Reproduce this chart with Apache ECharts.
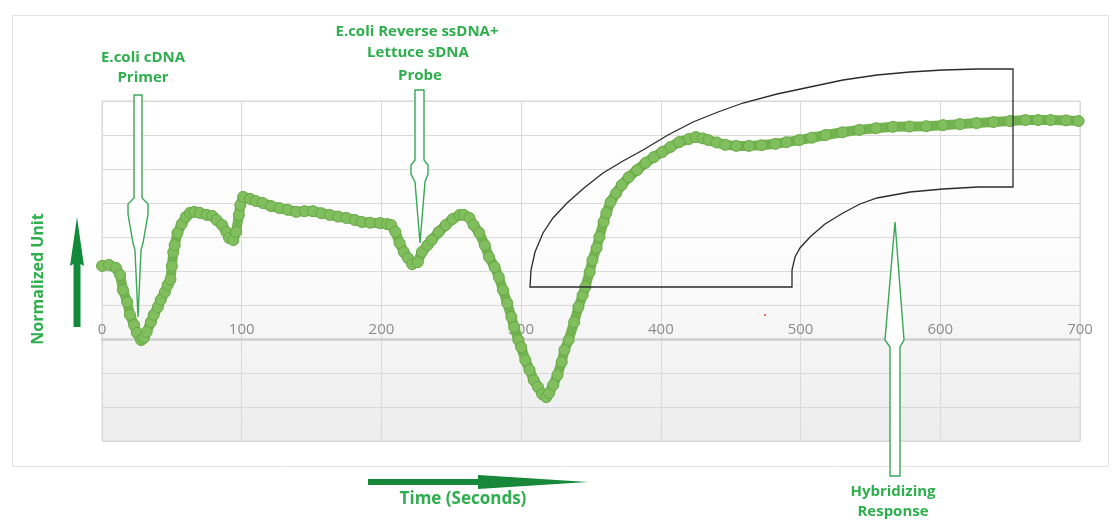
<!DOCTYPE html>
<html>
<head>
<meta charset="utf-8">
<script src="https://cdn.jsdelivr.net/npm/echarts@6/dist/echarts.min.js"></script>
<style>
html,body{margin:0;padding:0;background:#fff;}
#chart{width:1117px;height:520px;}
</style>
</head>
<body>
<div id="chart"></div>
<script>
// ---- data ----
var times = [0,5,10,13,15,18,20,23,25,28,30,32,35,37,40,42,45,47,49,50,51,52,54,57,60,63,66,70,75,79,82,86,89,91,94,96,98,99,101,
  106,110,115,121,127,133,139,145,151,157,163,169,175,181,186,192,199,204,207,210,213,216,219,222,226,229,233,236,241,246,251,256,259,263,266,270,274,277,281,284,287,290,293,295,298,
  300,303,306,309,312,315,318,320,323,326,329,331,334,338,341,344,346,349,351,354,356,359,361,364,368,372,377,383,389,395,401,407,413,420,425,430,434,440,446,454,463,472,482,490,499,
  508,518,530,542,554,566,578,590,602,614,626,638,650,661,670,679,690,699];
var values = [2.15,2.18,2.09,1.88,1.44,1.09,0.71,0.41,0.18,-0.03,0.03,0.21,0.5,0.71,0.94,1.15,1.38,1.59,1.75,2.15,2.55,2.76,3.12,3.38,3.59,3.71,3.74,3.71,3.65,3.62,3.5,3.35,3.15,2.97,2.91,3.15,3.65,3.94,4.18,
  4.12,4.06,4.0,3.91,3.85,3.8,3.74,3.76,3.76,3.7,3.65,3.6,3.56,3.5,3.44,3.42,3.41,3.38,3.35,3.15,2.82,2.56,2.38,2.2,2.26,2.56,2.76,2.91,3.15,3.35,3.53,3.65,3.65,3.56,3.35,3.12,2.76,2.41,2.12,1.82,1.44,1.06,0.65,0.35,-0.03,
  -0.24,-0.62,-0.91,-1.21,-1.41,-1.62,-1.71,-1.59,-1.35,-1.06,-0.68,-0.32,-0.03,0.5,0.94,1.29,1.53,1.97,2.32,2.68,3.0,3.44,3.71,4.03,4.29,4.53,4.76,4.97,5.18,5.35,5.5,5.65,5.79,5.88,5.94,5.9,5.85,5.78,5.71,5.68,5.68,5.7,5.74,5.79,5.85,
  5.92,6.0,6.08,6.15,6.2,6.24,6.25,6.26,6.29,6.32,6.35,6.38,6.41,6.44,6.44,6.44,6.43,6.41];
var xTicks = [0,100,200,300,400,500,600,700];
var yTicks = [-3,-2,-1,0,1,2,3,4,5,6,7];
var xTitle = 'Time (Seconds)';
var yTitle = 'Normalized Unit';
var note1 = ['E.coli cDNA', 'Primer'];
var note2 = ['E.coli Reverse ssDNA+', 'Lettuce sDNA', 'Probe'];
var note3 = ['Hybridizing', 'Response'];

// ---- chart ----
var chart = echarts.init(document.getElementById('chart'), null, {renderer: 'canvas'});
var pts = times.map(function (t, i) { return [t, values[i]]; });
var green = '#2eae4d';
var fontFam = '"Open Sans", Lato, sans-serif';

var gridTop = 101, gridBottom = 79, chartH = 520;
var gridH = chartH - gridTop - gridBottom;
var yMin = yTicks[0], yMax = yTicks[yTicks.length - 1];
var zeroOffset = -((0 - yMin) / (yMax - yMin)) * gridH;

function textEl(x, y, s, size) {
  return {type: 'text', x: x, y: y, z: 100,
    style: {text: s, fill: green, font: 'bold ' + (size || 15) + 'px ' + fontFam, textAlign: 'center', textVerticalAlign: 'middle'}};
}
function outlineArrow(points) {
  return {type: 'polygon', z: 100, shape: {points: points},
    style: {fill: '#ffffff', stroke: '#3aa656', lineWidth: 1.4}};
}

var graphics = [
  {type: 'rect', z: 0, shape: {x: 12.5, y: 15.5, width: 1096, height: 451},
    style: {fill: 'none', stroke: '#e2e2e2', lineWidth: 1}},
  {type: 'text', x: 38, y: 279, rotation: Math.PI / 2, z: 100,
    style: {text: yTitle, fill: green, font: 'bold 16px ' + fontFam, textAlign: 'center', textVerticalAlign: 'middle'}},
  {type: 'polygon', z: 100, shape: {points: [[77,217],[84,266],[80.5,264],[80.5,327],[73.5,327],[73.5,264],[70,266]]},
    style: {fill: '#13893a'}},
  {type: 'polygon', z: 100, shape: {points: [[368,479],[478,479],[478,475],[588,482],[478,489],[478,485],[368,485]]},
    style: {fill: '#17883a'}},
  textEl(463, 499, xTitle, 17),
  textEl(143, 58, note1[0]), textEl(143, 78, note1[1]),
  outlineArrow([[134,95],[142,95],[142,198],[148,204],[148,214],[143,243],[141,250],[138,317],[135,250],[133,243],[128,214],[128,204],[134,198]]),
  textEl(417, 32, note2[0]), textEl(418, 53, note2[1]), textEl(420, 76, note2[2]),
  outlineArrow([[415,90],[424,90],[424,160],[428,165],[428,174],[425,182],[420,243],[415,182],[411,174],[411,165],[415,160]]),
  outlineArrow([[895,222],[904,340],[900,347],[900,476],[890,476],[890,347],[885,340]]),
  textEl(893, 492, note3[0]), textEl(893, 512, note3[1]),
  {type: 'polygon', z: 110, shape: {points: [
    [530,287],[531,270],[535,252],[543,233],[553,218],[567,203],[584,188],[603,173],[623,161],[643,150],[668,135],[693,122],
    [718,112],[743,103],[777,94],[810,87],[843,80],[877,75],[910,72],[943,70],[978,69],[1013,69],[1013,187],[978,187],
    [943,189],[910,192],[877,198],[860,204],[843,213],[825,224],[810,237],[800,248],[795,257],[792,270],[792,287]]},
    style: {fill: 'none', stroke: '#2b2b2b', lineWidth: 1.3}},
  {type: 'circle', z: 100, shape: {cx: 765, cy: 315, r: 1}, style: {fill: '#e33'}}
];

var option = {
  animation: false,
  backgroundColor: '#ffffff',
  grid: {
    left: 102, right: 37, top: gridTop, bottom: gridBottom,
    show: true,
    borderColor: '#d6d6d6', borderWidth: 1,
    backgroundColor: new echarts.graphic.LinearGradient(0, 0, 0, 1, [
      {offset: 0, color: '#ffffff'}, {offset: 0.5, color: '#fbfbfb'}, {offset: 1, color: '#ececec'}])
  },
  xAxis: {
    type: 'value', min: xTicks[0], max: xTicks[xTicks.length - 1], interval: xTicks[1] - xTicks[0],
    position: 'bottom', offset: zeroOffset,
    axisLine: {show: true, onZero: false, lineStyle: {color: '#d0d0d0', width: 2.5}},
    axisTick: {show: false},
    axisLabel: {inside: true, margin: 2, color: '#8c8c8c', fontSize: 15, fontFamily: '"Open Sans", sans-serif',
      showMinLabel: true, showMaxLabel: true},
    splitLine: {show: true, lineStyle: {color: '#dadada', width: 1}}
  },
  yAxis: {
    type: 'value', min: yMin, max: yMax, interval: yTicks[1] - yTicks[0],
    axisLine: {show: false}, axisTick: {show: false}, axisLabel: {show: false},
    splitLine: {show: true, lineStyle: {color: '#dadada', width: 1}}
  },
  series: [{
    type: 'line',
    data: pts,
    smooth: false,
    showAllSymbol: true,
    symbol: 'circle',
    symbolSize: 11,
    lineStyle: {color: '#74b450', width: 10},
    itemStyle: {color: '#80be5e', borderColor: '#68a945', borderWidth: 1},
    z: 5
  }],
  graphic: graphics
};
chart.setOption(option);
</script>
</body>
</html>
